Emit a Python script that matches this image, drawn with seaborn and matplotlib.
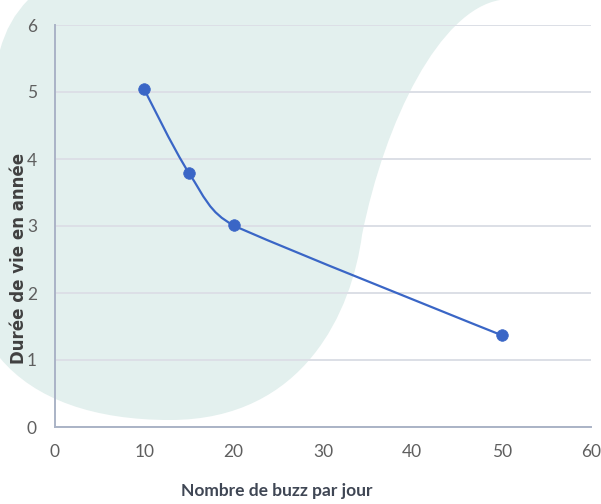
import numpy as np
import matplotlib
matplotlib.use("Agg")
import matplotlib.pyplot as plt
from matplotlib.path import Path
from matplotlib.patches import PathPatch
import seaborn as sns

# data
buzz_per_day = [10, 15, 20, 50]
lifetime_years = [5.04, 3.79, 3.01, 1.37]
x_ticks = [0, 10, 20, 30, 40, 50, 60]
y_ticks = [0, 1, 2, 3, 4, 5, 6]

line_color = "#3a66c6"
tick_color = "#5f5f5f"

sns.set_theme(style="white")
plt.rcParams["font.family"] = ["Lato", "DejaVu Sans"]

W, H = 601, 504
fig = plt.figure(figsize=(W / 100, H / 100), dpi=100)
fig.patch.set_facecolor("white")


def px(x, y):
    # figure pixel (y down) -> figure fraction
    return (x / W, 1 - y / H)


# decorative pale teal blob behind the plot
blob = [
    ((0, 50), Path.MOVETO),
    ((8, 20), Path.CURVE3), ((28, 0), Path.CURVE3),
    ((500, 0), Path.LINETO),
    ((440, 10), Path.CURVE4), ((385, 120), Path.CURVE4), ((362, 235), Path.CURVE4),
    ((352, 310), Path.CURVE4), ((305, 420), Path.CURVE4), ((170, 420), Path.CURVE4),
    ((95, 420), Path.CURVE4), ((35, 400), Path.CURVE4), ((0, 358), Path.CURVE4),
    ((0, 50), Path.CLOSEPOLY),
]
verts = [px(*v) for v, _ in blob]
codes = [c for _, c in blob]
fig.patches.append(PathPatch(Path(verts, codes), transform=fig.transFigure,
                             facecolor="#e3f0ee", edgecolor="none", zorder=-10))

ax = fig.add_axes([55 / W, 77 / H, 536 / W, 402 / H])
ax.set_facecolor("none")

ax.set_xlim(0, 60)
ax.set_ylim(0, 6)

# smoothed line like a spreadsheet "scatter with smooth lines",
# handles worked out in screen space, short on the long last leg
sx, sy = 536 / 60, 402 / 6
pts = np.column_stack([np.array(buzz_per_day, float) * sx,
                       np.array(lifetime_years, float) * sy])
n = len(pts)


def handle(i):
    if i == 0 or i == n - 1:
        return np.zeros(2)
    t = pts[i + 1] - pts[i - 1]
    t = t / np.linalg.norm(t)
    d = min(np.linalg.norm(pts[i] - pts[i - 1]), np.linalg.norm(pts[i + 1] - pts[i]))
    return t * d * 0.4


verts = [pts[0]]
codes = [Path.MOVETO]
for i in range(n - 1):
    verts += [pts[i] + handle(i), pts[i + 1] - handle(i + 1), pts[i + 1]]
    codes += [Path.CURVE4] * 3
verts = np.array(verts) / [sx, sy]
ax.add_patch(PathPatch(Path(verts, codes), facecolor="none", edgecolor=line_color,
                       lw=1.6, zorder=3))

sns.scatterplot(x=buzz_per_day, y=lifetime_years, ax=ax, color=line_color,
                s=70, edgecolor=line_color, linewidth=0.5, zorder=4)

ax.set_xticks(x_ticks)
ax.set_yticks(y_ticks)
ax.yaxis.grid(True, color="#dcdfe6", lw=1.4)
ax.set_axisbelow(True)
for s in ["top", "right"]:
    ax.spines[s].set_visible(False)
for s in ["left", "bottom"]:
    ax.spines[s].set_color("#aab3c6")
    ax.spines[s].set_linewidth(1.4)
ax.tick_params(axis="both", length=0, labelsize=12.5, labelcolor=tick_color)
ax.tick_params(axis="x", pad=12)
ax.tick_params(axis="y", pad=13)

ax.set_xlabel("Nombre de buzz par jour", fontsize=12.5, fontweight="bold",
              color="#3f4654")
ax.xaxis.set_label_coords(0.414, -0.14)
ax.set_ylabel("Durée de vie en année", fontsize=12, fontweight="bold",
              color="#404040", family=["DejaVu Sans"])
ax.yaxis.set_label_coords(-0.05, 0.42)

fig.savefig("out.png", dpi=100)
